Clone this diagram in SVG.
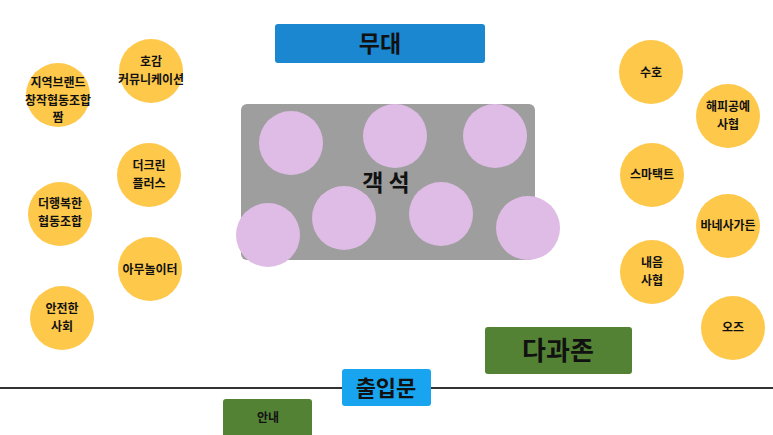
<svg xmlns="http://www.w3.org/2000/svg" width="773" height="435" viewBox="0 0 773 435">
<style>
.y{fill:#fec84b}
.p{fill:#dfbce6}
.t{font-family:"Noto Sans CJK KR","Noto Sans",sans-serif;font-weight:bold;fill:#111;text-anchor:middle}
.s{font-size:12px}
.g{fill:#548235}
</style>
<rect width="773" height="435" fill="#ffffff"/>
<g id="connectors">
<line x1="0" y1="388" x2="773" y2="388" stroke="#333" stroke-width="2"/>
</g>
<g id="stage">
<rect x="275" y="24" width="210" height="39" rx="3" fill="#1b87d1"/>
<text class="t" x="380" y="52" font-size="23">무대</text>
</g>
<g id="seats">
<rect x="241" y="104" width="294" height="156" rx="6" fill="#9e9e9e"/>
<circle class="p" cx="291" cy="143" r="32"/>
<circle class="p" cx="395" cy="136" r="32"/>
<circle class="p" cx="495" cy="136" r="32"/>
<circle class="p" cx="268" cy="235" r="32"/>
<circle class="p" cx="344" cy="218" r="32"/>
<circle class="p" cx="441" cy="214" r="32"/>
<circle class="p" cx="528" cy="228" r="32"/>
<text class="t" x="386" y="191" font-size="23">객 석</text>
</g>
<g id="n1"><circle class="y" cx="58" cy="95" r="32"/><text class="t s" x="58" y="87">지역브랜드</text><text class="t s" x="58" y="104.5">창작협동조합</text><text class="t s" x="58" y="122">짬</text></g>
<g id="n2"><circle class="y" cx="151" cy="71" r="32"/><text class="t s" x="151" y="66">호감</text><text class="t s" x="151" y="83.5">커뮤니케이션</text></g>
<g id="n3"><circle class="y" cx="149" cy="175" r="32"/><text class="t s" x="149" y="170">더크린</text><text class="t s" x="149" y="187.5">플러스</text></g>
<g id="n4"><circle class="y" cx="60" cy="214" r="32"/><text class="t s" x="60" y="208">더행복한</text><text class="t s" x="60" y="225.5">협동조합</text></g>
<g id="n5"><circle class="y" cx="150" cy="269" r="32"/><text class="t s" x="150" y="274">아무놀이터</text></g>
<g id="n6"><circle class="y" cx="62" cy="318" r="32"/><text class="t s" x="62" y="313">안전한</text><text class="t s" x="62" y="330.5">사회</text></g>
<g id="n7"><circle class="y" cx="651" cy="72" r="32"/><text class="t s" x="651" y="77">수호</text></g>
<g id="n8"><circle class="y" cx="728" cy="116" r="32"/><text class="t s" x="728" y="111">해피공예</text><text class="t s" x="728" y="128.5">사협</text></g>
<g id="n9"><circle class="y" cx="652" cy="175" r="32"/><text class="t s" x="652" y="179">스마택트</text></g>
<g id="n10"><circle class="y" cx="728" cy="226" r="32"/><text class="t s" x="728" y="230">바네사가든</text></g>
<g id="n11"><circle class="y" cx="652" cy="272" r="32"/><text class="t s" x="652" y="267">내음</text><text class="t s" x="652" y="284.5">사협</text></g>
<g id="n12"><circle class="y" cx="733" cy="328" r="32"/><text class="t s" x="733" y="332">오즈</text></g>
<g id="refresh">
<rect class="g" x="485" y="327" width="147" height="47" rx="3"/>
<text class="t" x="558" y="360" font-size="26">다과존</text>
</g>
<g id="entrance">
<rect x="342" y="369" width="89" height="37" rx="3" fill="#18a4ef"/>
<text class="t" x="386" y="396" font-size="22">출입문</text>
</g>
<g id="info">
<rect class="g" x="223" y="399" width="89" height="40" rx="3"/>
<text class="t s" x="268" y="422">안내</text>
</g>
</svg>
